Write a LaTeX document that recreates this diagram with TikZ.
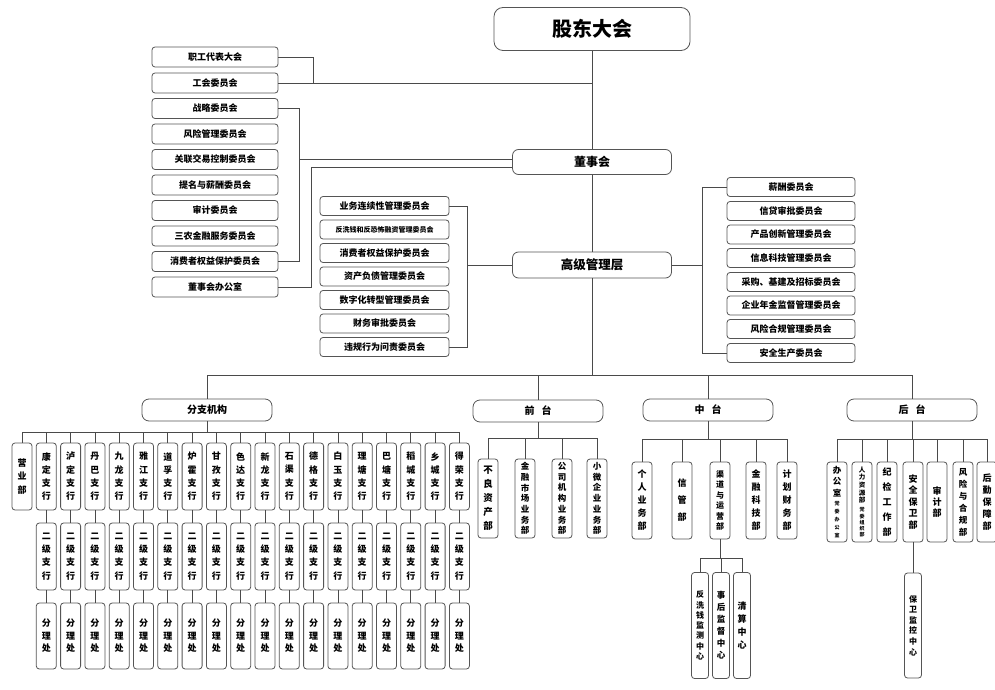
\documentclass[tikz,border=0pt]{standalone}
\usepackage{fontspec}
\setmainfont{Noto Sans CJK SC}
\XeTeXlinebreaklocale "zh"
\XeTeXlinebreakskip=0pt plus 1pt
\definecolor{lc}{HTML}{4A4A4A}
\definecolor{bc}{HTML}{555555}
\newcommand\bgch[1]{{\fontsize{8.5}{8.5}\selectfont #1}}
\newcommand\mdch[1]{{\fontsize{6.5}{6.5}\selectfont #1}}
\newcommand\smch[1]{{\fontsize{5}{5}\selectfont #1}}
\begin{document}
\begin{tikzpicture}[x=1pt,y=-1pt,
  conn/.style={draw=lc, line width=0.8pt},
  orgbox/.style={draw=bc, line width=0.8pt, rounded corners=3pt, fill=white, inner sep=0pt, text=black},
  comL/.style={orgbox, minimum width=126pt, minimum height=20pt, font=\bfseries\fontsize{9}{9}\selectfont},
  comM/.style={orgbox, minimum width=129pt, minimum height=19pt, font=\bfseries\fontsize{9}{9}\selectfont},
  comR/.style={orgbox, minimum width=128pt, minimum height=19pt, font=\bfseries\fontsize{9}{9}\selectfont},
  grpbox/.style={orgbox, rounded corners=7pt, minimum width=130pt, minimum height=22pt, font=\bfseries\fontsize{10}{10}\selectfont},
  vbox/.style n args={3}{orgbox, minimum width=20pt, minimum height=#1, text width=10pt, align=center, font=\bfseries\fontsize{#2}{#3}\selectfont},
  vsbox/.style n args={3}{orgbox, minimum width=17pt, minimum height=#1, text width=10pt, align=center, font=\bfseries\fontsize{#2}{#3}\selectfont},
  stackbox/.style={orgbox, minimum width=20pt, minimum height=80pt, font=\bfseries}]
\fill[white] (0,0) rectangle (995,690);
\useasboundingbox (0,0) rectangle (995,690);

% top spine
\node[orgbox, rounded corners=9pt, minimum width=196pt, minimum height=43pt, font=\bfseries\fontsize{20}{20}\selectfont] (gd) at (592,29) {股东大会};
\node[orgbox, rounded corners=6pt, minimum width=159pt, minimum height=25pt, font=\bfseries\fontsize{12}{12}\selectfont] (ds) at (592,162) {董事会};
\node[orgbox, rounded corners=6pt, minimum width=159pt, minimum height=26pt, font=\bfseries\fontsize{12.5}{12.5}\selectfont] (gl) at (592,265) {高级管理层};

% left committees
\foreach \n/\y [count=\i] in {职工代表大会/57, 工会委员会/83, 战略委员会/108.5, 风险管理委员会/134, 关联交易控制委员会/159.5, 提名与薪酬委员会/185, 审计委员会/210.5, 三农金融服务委员会/236, 消费者权益保护委员会/261.5, 董事会办公室/287}
  \node[comL] (L\i) at (215,\y) {\n};

% middle committees
\node[comM] (M1) at (384.5,206) {业务连续性管理委员会};
\node[comM, font=\bfseries\fontsize{7}{7}\selectfont] (M2) at (384.5,229.5) {反洗钱和反恐怖融资管理委员会};
\node[comM] (M3) at (384.5,253) {消费者权益保护委员会};
\node[comM] (M4) at (384.5,276.5) {资产负债管理委员会};
\node[comM] (M5) at (384.5,300) {数字化转型管理委员会};
\node[comM] (M6) at (384.5,323.5) {财务审批委员会};
\node[comM] (M7) at (384.5,347) {违规行为问责委员会};

% right committees
\foreach \n/\y [count=\i] in {薪酬委员会/187, 信贷审批委员会/211, 产品创新管理委员会/234.5, 信息科技管理委员会/258, 采购、基建及招标委员会/282, 企业年金监督管理委员会/305.5, 风险合规管理委员会/329, 安全生产委员会/353}
  \node[comR] (R\i) at (791,\y) {\n};

% spine connectors
\draw[conn] (gd.south) -- (ds.north);
\draw[conn] (ds.south) -- (gl.north);
\coordinate (k1) at (313,0);
\draw[conn] (L1.east) -- (L1.east -| k1) -- (L2.east -| k1);
\draw[conn] (L2.east) -- (L2.east -| gd.south);
\coordinate (k2) at (299,159);
\draw[conn] (L3.east) -- (L3.east -| k2) -- (L9.east -| k2) -- (L9.east);
\draw[conn] (k2) -- (k2 -| ds.west);
\coordinate (k3) at (311,167);
\draw[conn] (L10.east) -- (L10.east -| k3) -- (k3) -- (k3 -| ds.west);
\coordinate (k4) at (467,265);
\draw[conn] (M1.east) -- (M1.east -| k4) -- (M7.east -| k4) -- (M7.east);
\draw[conn] (k4) -- (gl.west);
\coordinate (k5) at (702,265);
\draw[conn] (R1.west) -- (R1.west -| k5) -- (R8.west -| k5) -- (R8.west);
\draw[conn] (gl.east) -- (k5);

% four groups
\node[grpbox] (fz) at (207,410) {分支机构};
\node[grpbox] (qt) at (538,411) {前\hspace{7pt}台};
\node[grpbox] (zt) at (708,410) {中\hspace{7pt}台};
\node[grpbox] (ht) at (912,410) {后\hspace{7pt}台};
\coordinate (bus) at (0,375);
\draw[conn] (gl.south) -- (gl.south |- bus);
\draw[conn] (fz.north |- bus) -- (ht.north |- bus);
\foreach \g in {fz,qt,zt,ht} \draw[conn] (\g.north) -- (\g.north |- bus);

% branches
\coordinate (fb) at (0,432);
\foreach \n [count=\i from 0] in {营业部,康定支行,泸定支行,丹巴支行,九龙支行,雅江支行,道孚支行,炉霍支行,甘孜支行,色达支行,新龙支行,石渠支行,德格支行,白玉支行,理塘支行,巴塘支行,稻城支行,乡城支行,得荣支行}
  \node[vbox={67pt}{9}{13.3}] (b\i) at ({22+24.3*\i},476.5) {\n};
\foreach \i in {1,...,18} {
  \node[vbox={67pt}{9}{13.3}] (e\i) at ({22+24.3*\i},556.5) {二级支行};
  \node[vbox={66pt}{9}{12.5}] (f\i) at ({22+24.3*\i},636) {分理处};
  \draw[conn] (b\i) -- (e\i);
  \draw[conn] (e\i) -- (f\i);
}
\draw[conn] (fz.south) -- (fz.south |- fb);
\draw[conn] (b0.north |- fb) -- (b18.north |- fb);
\foreach \i in {0,...,18} \draw[conn] (b\i.north) -- (b\i.north |- fb);

% front office
\coordinate (qb) at (0,438);
\node[vbox={79pt}{9.5}{14}] (q1) at (488,498.5) {不良资产部};
\node[vbox={79pt}{8.5}{10.7}] (q2) at (525,498.5) {金融市场业务部};
\node[vbox={79pt}{8.5}{10.7}] (q3) at (562,498.5) {公司机构业务部};
\node[vbox={79pt}{8.5}{10.7}] (q4) at (597,498.5) {小微企业业务部};
\draw[conn] (qt.south) -- (qt.south |- qb);
\draw[conn] (q1.north |- qb) -- (q4.north |- qb);
\foreach \i in {1,...,4} \draw[conn] (q\i.north) -- (q\i.north |- qb);

% middle office
\coordinate (zb) at (0,439);
\node[vbox={77pt}{9}{13}] (z1) at (642,500.5) {个人业务部};
\node[vbox={77pt}{9}{17}] (z2) at (682,500.5) {信管部};
\node[vbox={77pt}{8}{10.4}] (z3) at (720,500.5) {渠道与运营部};
\node[vbox={77pt}{9}{13}] (z4) at (756,500.5) {金融科技部};
\node[vbox={77pt}{9}{13}] (z5) at (787,500.5) {计划财务部};
\draw[conn] (zt.south) -- (zt.south |- zb);
\draw[conn] (z1.north |- zb) -- (z5.north |- zb);
\foreach \i in {1,...,5} \draw[conn] (z\i.north) -- (z\i.north |- zb);
\coordinate (sb) at (0,558);
\node[vsbox={106pt}{8}{10.3}] (s1) at (700,625.5) {反洗钱监测中心};
\node[vsbox={106pt}{8.5}{12}] (s2) at (721,625.5) {事后监督中心};
\node[vsbox={106pt}{9}{13.3}] (s3) at (742,625.5) {清算中心};
\draw[conn] (z3.south) -- (z3.south |- sb);
\draw[conn] (s1.north |- sb) -- (s3.north |- sb);
\foreach \i in {1,...,3} \draw[conn] (s\i.north) -- (s\i.north |- sb);

% back office
\coordinate (hb) at (0,439);
\node[stackbox] (h1) at (837,502) {\shortstack{\bgch{办}\\\bgch{公}\\\bgch{室}\\[2pt]\smch{党}\\\smch{委}\\\smch{办}\\\smch{公}\\\smch{室}}};
\node[stackbox] (h2) at (862,502) {\shortstack{\mdch{人}\\[-1.5pt]\mdch{力}\\[-1.5pt]\mdch{资}\\[-1.5pt]\mdch{源}\\[-1.5pt]\mdch{部}\\[1pt]\smch{党}\\[-1.5pt]\smch{委}\\[-1.5pt]\smch{组}\\[-1.5pt]\smch{织}\\[-1.5pt]\smch{部}}};
\node[vbox={80pt}{9}{15}] (h3) at (887,502) {纪检工作部};
\node[vbox={80pt}{9}{11.5}] (h4) at (913,502) {安全保卫部};
\node[vbox={80pt}{9}{11}] (h5) at (937,502) {审计部};
\node[vbox={80pt}{8.5}{12}] (h6) at (963,502) {风险与合规部};
\node[vbox={80pt}{9}{12}] (h7) at (987,502) {后勤保障部};
\draw[conn] (ht.south) -- (ht.south |- hb);
\draw[conn] (h1.north |- hb) -- (h7.north |- hb);
\foreach \i in {1,...,7} \draw[conn] (h\i.north) -- (h\i.north |- hb);
\node[vsbox={105pt}{8}{10.6}] (hs) at (913,625.5) {保卫监控中心};
\draw[conn] (h4) -- (hs);
\end{tikzpicture}
\end{document}
